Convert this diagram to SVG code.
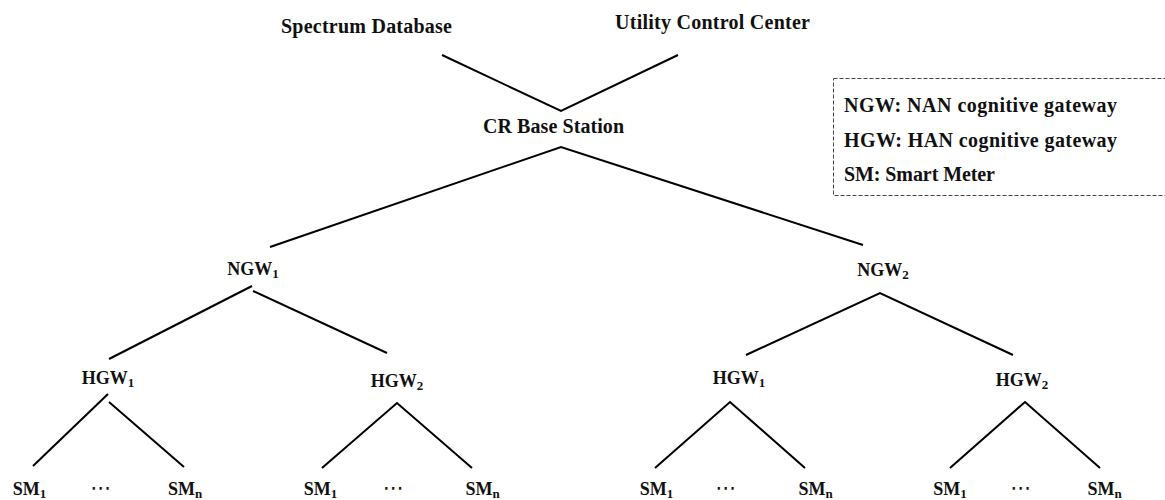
<svg xmlns="http://www.w3.org/2000/svg" width="1165" height="500" viewBox="0 0 1165 500">
<style>
.t{font-family:"Liberation Serif","Times New Roman",serif;font-weight:bold;font-size:20px;fill:#111}
.n{font-family:"Liberation Serif","Times New Roman",serif;font-weight:bold;font-size:18px;fill:#111;text-anchor:middle}
.s{font-size:13px}
.d{font-family:"DejaVu Sans",sans-serif;font-size:21px;fill:#111;text-anchor:middle}
.c{fill:none;stroke:#000;stroke-width:2;stroke-linejoin:miter}
.box{fill:none;stroke:#444;stroke-width:1;stroke-dasharray:4 2}
</style>
<rect width="1165" height="500" fill="#fff"/>
<g id="connectors">
<polyline class="c" points="442,55 561,111 678,55"/>
<polyline class="c" points="270,247 561,147 863,245"/>
<line class="c" x1="252" y1="286" x2="109" y2="359"/>
<line class="c" x1="253" y1="291" x2="387" y2="353"/>
<polyline class="c" points="746,355 880,293 1013,355"/>
<line class="c" x1="108" y1="394" x2="33" y2="466"/>
<line class="c" x1="109" y1="402" x2="184" y2="467"/>
<polyline class="c" points="322,468 397,403 472,468"/>
<polyline class="c" points="655,468 730,402 805,468"/>
<polyline class="c" points="950,468 1025,402 1100,468"/>
</g>
<g id="spectrum-database"><text class="t" x="281" y="33" textLength="171">Spectrum Database</text></g>
<g id="utility-control-center"><text class="t" x="615" y="29" textLength="195">Utility Control Center</text></g>
<g id="cr-base-station"><text class="t" x="483" y="133" textLength="141">CR Base Station</text></g>
<g id="legend">
<rect class="box" x="833.5" y="78.5" width="340" height="117"/>
<text class="t" x="844" y="112" textLength="273">NGW: NAN cognitive gateway</text>
<text class="t" x="844" y="147" textLength="273">HGW: HAN cognitive gateway</text>
<text class="t" x="844" y="181" textLength="151">SM: Smart Meter</text>
</g>
<g id="ngw1"><text class="n" x="253" y="275">NGW<tspan class="s" dy="3">1</tspan></text></g>
<g id="ngw2"><text class="n" x="883" y="276">NGW<tspan class="s" dy="3">2</tspan></text></g>
<g id="ngw1-hgw1"><text class="n" x="108" y="384">HGW<tspan class="s" dy="3">1</tspan></text></g>
<g id="ngw1-hgw2"><text class="n" x="397" y="387">HGW<tspan class="s" dy="3">2</tspan></text></g>
<g id="ngw2-hgw1"><text class="n" x="739" y="384">HGW<tspan class="s" dy="3">1</tspan></text></g>
<g id="ngw2-hgw2"><text class="n" x="1022" y="386">HGW<tspan class="s" dy="3">2</tspan></text></g>
<g id="sm-group-1">
<text class="n" x="29.5" y="495">SM<tspan class="s" dy="3">1</tspan></text>
<text class="d" x="101" y="495">⋯</text>
<text class="n" x="185" y="495">SM<tspan class="s" dy="3">n</tspan></text>
</g>
<g id="sm-group-2">
<text class="n" x="320.5" y="495">SM<tspan class="s" dy="3">1</tspan></text>
<text class="d" x="393.5" y="495">⋯</text>
<text class="n" x="482.5" y="495">SM<tspan class="s" dy="3">n</tspan></text>
</g>
<g id="sm-group-3">
<text class="n" x="656.5" y="495">SM<tspan class="s" dy="3">1</tspan></text>
<text class="d" x="726" y="495">⋯</text>
<text class="n" x="815.5" y="495">SM<tspan class="s" dy="3">n</tspan></text>
</g>
<g id="sm-group-4">
<text class="n" x="950" y="495">SM<tspan class="s" dy="3">1</tspan></text>
<text class="d" x="1021" y="495">⋯</text>
<text class="n" x="1104.5" y="495">SM<tspan class="s" dy="3">n</tspan></text>
</g>
</svg>
